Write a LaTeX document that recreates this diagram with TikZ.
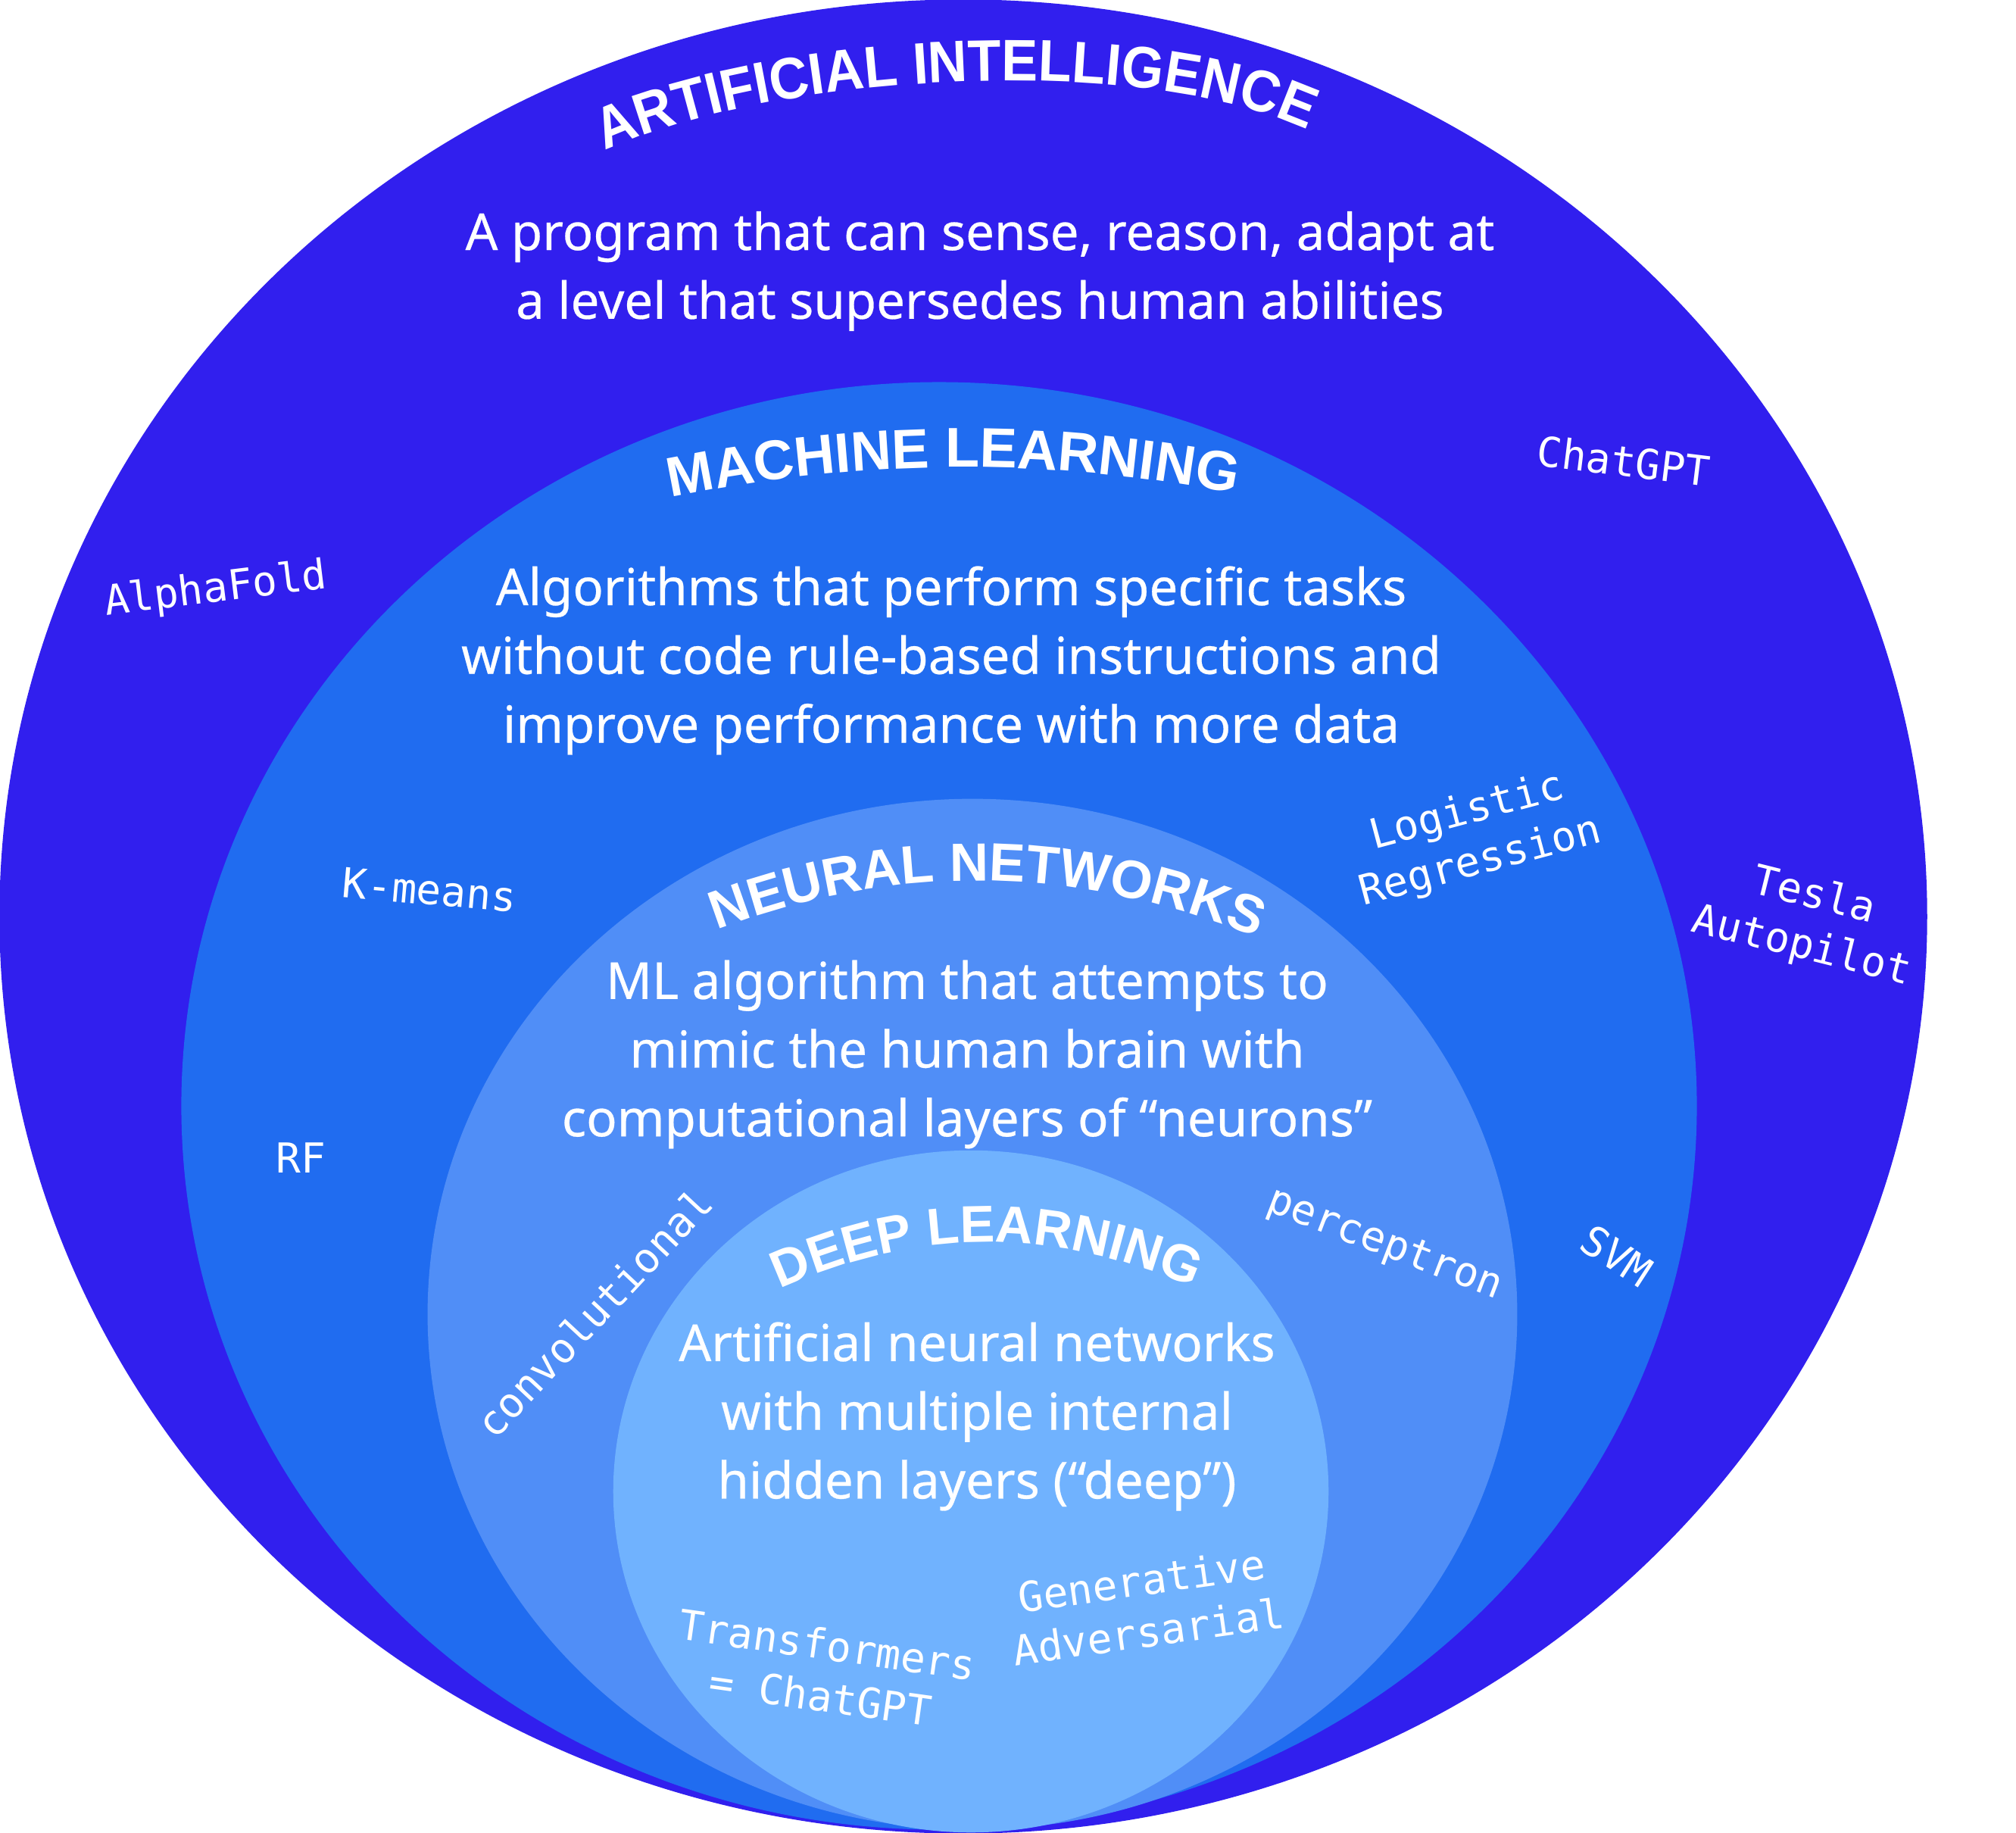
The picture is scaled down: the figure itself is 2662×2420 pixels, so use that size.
\documentclass[tikz,border=0pt]{standalone}
\usepackage{fontspec}
\setmainfont{Noto Sans}
\newfontfamily\descfont{Noto Sans}[FakeBold=0.4]
\newfontfamily\titlefont{Liberation Sans}
\newfontfamily\widetitlefont{Liberation Sans}[FakeStretch=0.93]
\newfontfamily\labelfont{DejaVu Sans Mono}
\usetikzlibrary{shapes.geometric,decorations.text}

\definecolor{aiblue}{RGB}{49,31,238}
\definecolor{mlblue}{RGB}{32,108,240}
\definecolor{nnblue}{RGB}{80,142,247}
\definecolor{dlblue}{RGB}{112,178,254}

\begin{document}
\begin{tikzpicture}[x=0.01cm, y=-0.01cm,
  zone/.style={ellipse, inner sep=0pt, draw=none},
  desc/.style={text=white, align=center, inner sep=0pt,
    font=\descfont\fontsize{19.1pt}{25.8pt}\selectfont},
  tag/.style={text=white, align=center, inner sep=0pt,
    font=\labelfont\fontsize{15.5pt}{19.4pt}\selectfont},
]
\fill[white] (0,0) rectangle (2662,2420);
\useasboundingbox (0,0) rectangle (2662,2420);

% nested fields, outermost first
\node[zone, fill=aiblue, minimum width=25.44cm, minimum height=24.20cm] (ai) at (1272,1210) {};
\node[zone, fill=mlblue, minimum width=20.00cm, minimum height=19.10cm] (ml) at (1240,1460) {};
\node[zone, fill=nnblue, minimum width=14.38cm, minimum height=13.60cm] (nn) at (1284,1735) {};
\node[zone, fill=dlblue, minimum width=9.44cm, minimum height=9.00cm] (dl) at (1282,1969) {};

% arched headings
\path[decorate, decoration={text along path, text align=center, text color=white,
  text={|\widetitlefont\bfseries\fontsize{22pt}{22pt}\selectfont|ARTIFICIAL INTELLIGENCE}}]
  (797,200) .. controls (1020,96) and (1505,68) .. (1728,172);
\path[decorate, decoration={text along path, text align=center, text color=white,
  text={|\titlefont\bfseries\fontsize{21pt}{21pt}\selectfont|MACHINE LEARNING}}]
  (885,657) .. controls (1134.7,605.3) and (1383.7,603.7) .. (1632,652);
\path[decorate, decoration={text along path, text align=center, text color=white,
  text={|\titlefont\bfseries\fontsize{20.2pt}{20.2pt}\selectfont|NEURAL NETWORKS}}]
  (946,1228) .. controls (1182.7,1138) and (1420.7,1141.3) .. (1660,1238);
\path[decorate, decoration={text along path, text align=center, text color=white,
  text={|\titlefont\bfseries\fontsize{19.5pt}{19.5pt}\selectfont|DEEP LEARNING}}]
  (1030,1702) .. controls (1211,1620) and (1392.7,1619.3) .. (1575,1700);

% definitions
\node[desc] (aitext) at (1294,358) {A program that can sense, reason, adapt at\\a level that supersedes human abilities};
\node[desc] (mltext) at (1256,872) {Algorithms that perform specific tasks\\without code rule-based instructions and\\improve performance with more data};
\node[desc] (nntext) at (1277,1392) {ML algorithm that attempts to\\mimic the human brain with\\computational layers of “neurons”};
\node[desc] (dltext) at (1290,1870) {Artificial neural networks\\with multiple internal\\hidden layers (“deep”)};

% examples
\node[tag, rotate=7] (alphafold) at (285,779) {AlphaFold};
\node[tag, rotate=-7] (chatgpt) at (2144,608) {ChatGPT};
\node[tag, rotate=-5] (kmeans) at (567,1175) {K-means};
\node[tag] (rf) at (397,1529) {RF};
\node[tag, rotate=15] (logreg) at (1946,1106) {Logistic\\Regression};
\node[tag, rotate=-14] (tesla) at (2387,1217) {Tesla\\Autopilot};
\node[tag, rotate=-33] (svm) at (2135,1658) {SVM};
\node[tag, rotate=-21] (perceptron) at (1828,1644) {perceptron};
\node[tag, rotate=47] (conv) at (784,1733) {convolutional};
\node[tag, rotate=8] (gan) at (1512,2120) {Generative\\Adversarial};
\node[tag, rotate=-8] (transformers) at (1088,2205) {Transformers\\= ChatGPT};
\end{tikzpicture}
\end{document}
